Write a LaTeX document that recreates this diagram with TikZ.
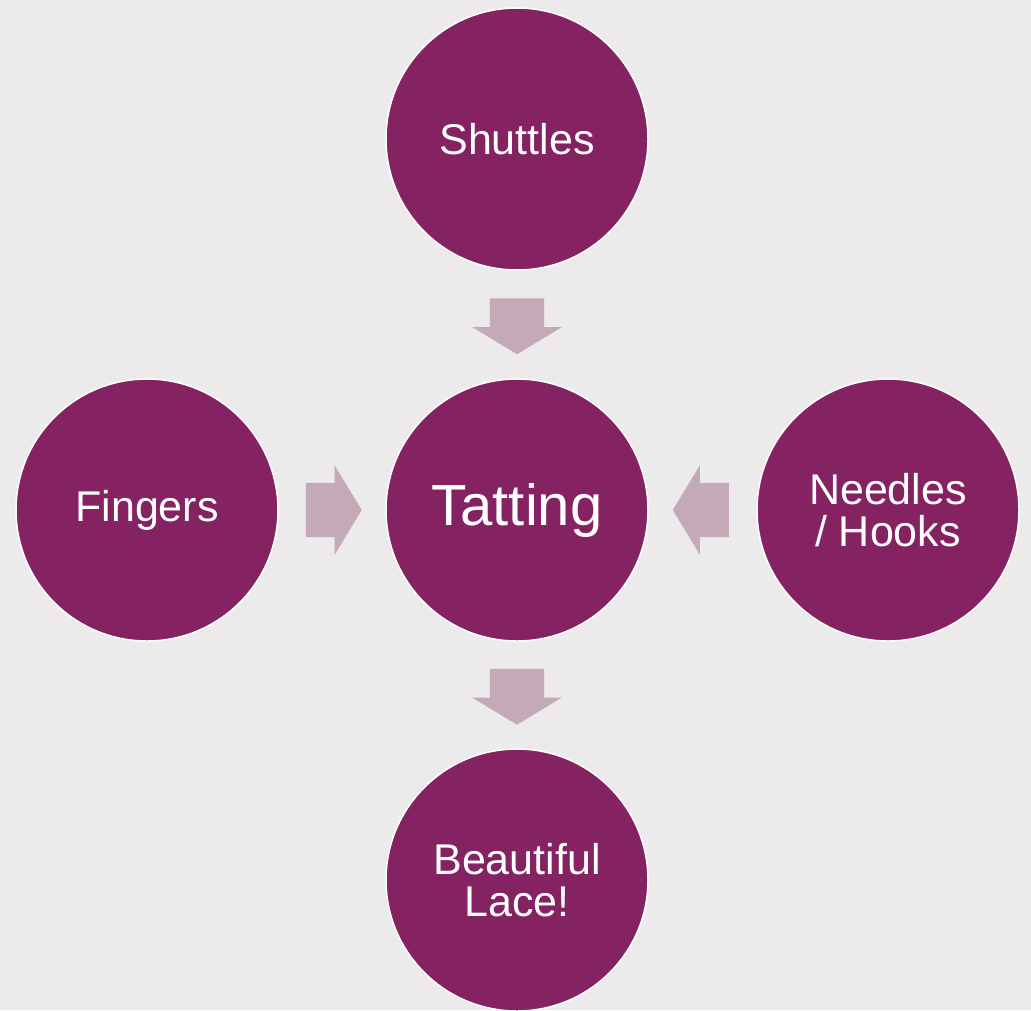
\documentclass[tikz,border=0pt]{standalone}
\usepackage{fontspec}
\setmainfont{Liberation Sans}
\usepackage{tikz}
\usetikzlibrary{shapes,shapes.arrows,calc}
\definecolor{plum}{RGB}{133,34,98}
\definecolor{mauve}{RGB}{196,170,185}
\definecolor{paper}{RGB}{237,234,236}

\begin{document}
\begin{tikzpicture}[x=1pt,y=-1pt,
      tool/.style={circle,draw=white,line width=1.5pt,fill=plum,text=white,
        minimum size=262pt,inner sep=0pt,align=center,
        font=\fontsize{43}{42}\selectfont},
      hub/.style={tool,font=\fontsize{58}{58}\selectfont},
      feed/.style={single arrow,draw=none,fill=mauve,inner xsep=0pt,
        inner ysep=27pt,minimum width=0pt,minimum height=56pt,
        single arrow head extend=17.5pt,single arrow tip angle=117.5,
        single arrow head indent=0pt,xshift=-6.5pt}]
    \clip (0,0) rectangle (1031,1010);
    \fill[paper] (0,0) rectangle (1031,1010);
    \node[hub] (tatting) at (517,510) {Tatting};
    \node[tool] (shuttles) at (517,139) {Shuttles};
    \node[tool] (fingers) at (147,510) {Fingers};
    \node[tool] (needles) at (888,510) {Needles\\/ Hooks};
    \node[tool] (lace) at (517,880) {Beautiful\\Lace!};
    \node[rotate=270,feed] (f1) at ($(shuttles.south)!0.5!(tatting.north)$) {};
    \node[feed] (f2) at ($(fingers.east)!0.5!(tatting.west)$) {};
    \node[rotate=180,feed] (f3) at ($(needles.west)!0.5!(tatting.east)$) {};
    \node[rotate=270,feed] (f4) at ($(tatting.south)!0.5!(lace.north)$) {};
  \end{tikzpicture}
\end{document}
